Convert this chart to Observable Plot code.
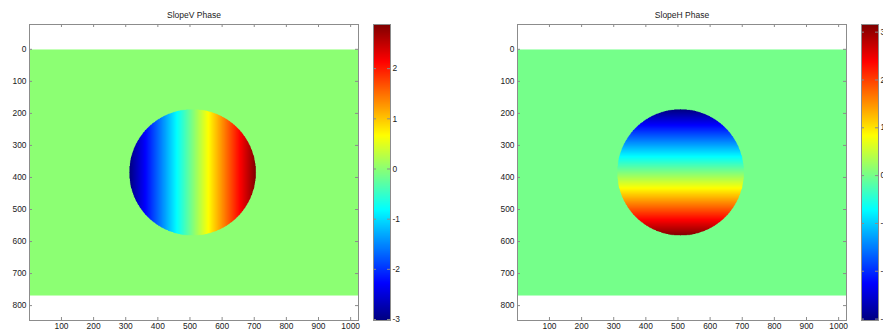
<!DOCTYPE html>
<html><head><meta charset="utf-8">
<script src="https://cdn.jsdelivr.net/npm/d3@7"></script>
<script src="https://cdn.jsdelivr.net/npm/@observablehq/plot@0.6"></script>
<style>
html,body{margin:0;padding:0;background:#fff;overflow:hidden;width:883px;height:332px}
#root{position:relative;width:883px;height:332px;overflow:hidden}
#root svg{position:absolute;top:0;overflow:visible}
</style></head><body><div id="root"></div>
<script>
// ---- data ----
const titles = ["SlopeV Phase", "SlopeH Phase"];
const imageSize = [1024, 768];          // pixels (columns, rows)
const diskCenter = [508, 384];          // pupil centre (column, row)
const diskRadius = 197;                 // pupil radius in pixels
const slopeVRange = [-3.02, 2.88];      // phase at left edge / right edge of pupil (tilt along columns)
const slopeHRange = [-3.03, 3.16];      // phase at top edge / bottom edge of pupil (tilt along rows)
const outsidePhase = 0;                 // phase outside the pupil
const xTicks = [100, 200, 300, 400, 500, 600, 700, 800, 900, 1000];
const yTicks = [0, 100, 200, 300, 400, 500, 600, 700, 800];
const xLimits = [0.5, 1024.5];
const yLimits = [-77.5, 846.5];
const colorbarTicksV = [-3, -2, -1, 0, 1, 2];
const colorbarTicksH = [-3, -2, -1, 0, 1, 2, 3];

// MATLAB "jet" colormap
function jet(t) {
  const c = v => Math.max(0, Math.min(1, v));
  const r = c(Math.min(4 * t - 1.5, -4 * t + 4.5));
  const g = c(Math.min(4 * t - 0.5, -4 * t + 3.5));
  const b = c(Math.min(4 * t + 0.5, -4 * t + 2.5));
  return `rgb(${Math.round(r * 255)},${Math.round(g * 255)},${Math.round(b * 255)})`;
}

function phaseAt(px, py, range, dir) {
  const dx = px - diskCenter[0], dy = py - diskCenter[1];
  if (dx * dx + dy * dy > diskRadius * diskRadius) return outsidePhase;
  const u = dir === "x" ? dx : dy;
  return range[0] + (u + diskRadius) / (2 * diskRadius) * (range[1] - range[0]);
}

const font = {fontFamily: "'Liberation Sans', Arial, Helvetica, sans-serif", fontSize: "8.4px", color: "#222", background: "transparent", overflow: "visible"};
const frameColor = "#8c8c8c";
const root = document.getElementById("root");
const fmt = d => String(d);

function heatmap(left, title, range, dir) {
  const W = 365, H = 332, mL = 29, mR = 7, mT = 24, mB = 12;
  const pw = W - mL - mR, ph = H - mT - mB, tk = 3;
  const svg = Plot.plot({
    width: W, height: H, marginLeft: mL, marginRight: mR, marginTop: mT, marginBottom: mB,
    style: font,
    x: {domain: xLimits},
    y: {domain: yLimits, reverse: true},
    color: {type: "linear", domain: range, interpolate: jet},
    marks: [
      Plot.raster({x1: 0.5, x2: imageSize[0] + 0.5, y1: 0.5, y2: imageSize[1] + 0.5,
        width: imageSize[0], height: imageSize[1],
        fill: (x, y) => phaseAt(x, y, range, dir)}),
      Plot.frame({stroke: frameColor}),
      Plot.tickX(xTicks, {x: d => d, insetBottom: ph - tk, stroke: frameColor}),
      Plot.tickX(xTicks, {x: d => d, insetTop: ph - tk, stroke: frameColor}),
      Plot.tickY(yTicks, {y: d => d, insetRight: pw - tk, stroke: frameColor}),
      Plot.tickY(yTicks, {y: d => d, insetLeft: pw - tk, stroke: frameColor}),
      Plot.axisX({ticks: xTicks, tickSize: 0, tickPadding: 3, label: null, tickFormat: fmt}),
      Plot.axisY({ticks: yTicks, tickSize: 0, tickPadding: 3, label: null, tickFormat: fmt}),
      Plot.text([title], {frameAnchor: "top", dy: -9.5, lineAnchor: "middle", fontSize: 8.5, fill: "#222"})
    ]
  });
  svg.style.left = left + "px";
  root.appendChild(svg);
}

function colorbar(left, range, ticks) {
  const W = 45, H = 332, mL = 8, mR = 20, mT = 24, mB = 12;
  const pw = W - mL - mR, tk = 3;
  const svg = Plot.plot({
    width: W, height: H, marginLeft: mL, marginRight: mR, marginTop: mT, marginBottom: mB,
    style: font,
    x: {domain: [0, 1], axis: null},
    y: {domain: range},
    color: {type: "linear", domain: range, interpolate: jet},
    marks: [
      Plot.raster({x1: 0, x2: 1, y1: range[0], y2: range[1], width: 1, height: 256,
        fill: (x, y) => y}),
      Plot.frame({stroke: frameColor}),
      Plot.tickY(ticks, {y: d => d, insetRight: pw - tk, stroke: frameColor}),
      Plot.tickY(ticks, {y: d => d, insetLeft: pw - tk, stroke: frameColor}),
      Plot.axisY({anchor: "right", ticks: ticks, tickSize: 0, tickPadding: 2, label: null, tickFormat: fmt})
    ]
  });
  svg.style.left = left + "px";
  root.appendChild(svg);
}

heatmap(0, titles[0], slopeVRange, "x");
colorbar(365, slopeVRange, colorbarTicksV);
heatmap(488, titles[1], slopeHRange, "y");
colorbar(853, slopeHRange, colorbarTicksH);
</script></body></html>
